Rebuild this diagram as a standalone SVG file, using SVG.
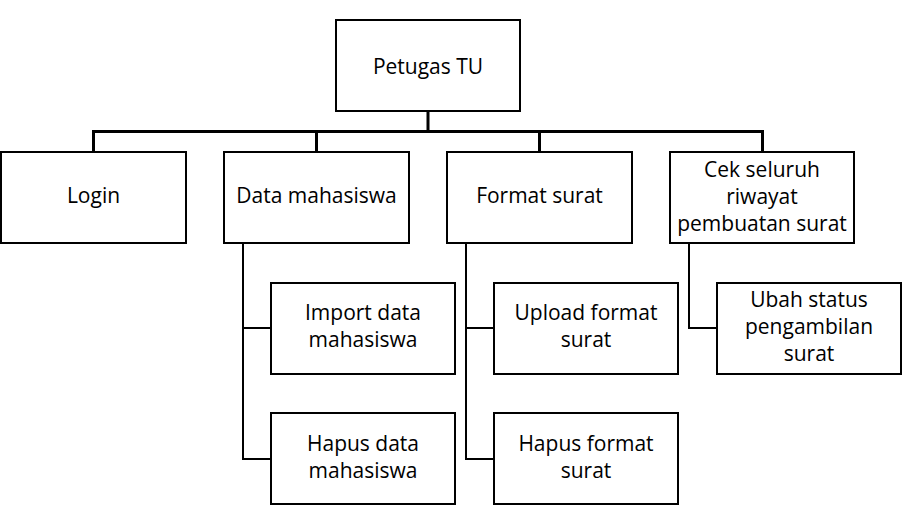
<svg xmlns="http://www.w3.org/2000/svg" width="902" height="525" viewBox="0 0 902 525">
<style>
.box{fill:#fff;stroke:#000;stroke-width:2}
.t{font-family:"Open Sans","Liberation Sans",sans-serif;font-size:21px;fill:#000;text-anchor:middle}
.c{fill:none;stroke:#000;stroke-width:2}
.m{fill:none;stroke:#000;stroke-width:3}
</style>
<rect width="902" height="525" fill="#fff"/>
<g id="connectors">
<path class="m" d="M428 111V131.5M93.5 152V131.5H762.5V152M316.5 131.5V152M539.5 131.5V152"/>
<path class="c" d="M243 243V459H271M243 328H271"/>
<path class="c" d="M466 243V459H494M466 328H494"/>
<path class="c" d="M689 243V328H717"/>
</g>
<g id="petugas"><rect class="box" x="336" y="20" width="184" height="91"/><text class="t" x="428" y="74">Petugas TU</text></g>
<g id="login"><rect class="box" x="1" y="152" width="185" height="91"/><text class="t" x="93.5" y="203">Login</text></g>
<g id="data"><rect class="box" x="224" y="152" width="185" height="91"/><text class="t" x="316.5" y="203">Data mahasiswa</text></g>
<g id="format"><rect class="box" x="447" y="152" width="185" height="91"/><text class="t" x="539.5" y="203">Format surat</text></g>
<g id="cek"><rect class="box" x="670" y="152" width="184" height="91"/><text class="t" x="762" y="177">Cek seluruh</text><text class="t" x="762" y="204">riwayat</text><text class="t" x="762" y="231">pembuatan surat</text></g>
<g id="import"><rect class="box" x="271" y="283" width="184" height="91"/><text class="t" x="363" y="320">Import data</text><text class="t" x="363" y="347">mahasiswa</text></g>
<g id="hapusdata"><rect class="box" x="271" y="413" width="184" height="91"/><text class="t" x="363" y="451">Hapus data</text><text class="t" x="363" y="478">mahasiswa</text></g>
<g id="upload"><rect class="box" x="494" y="283" width="184" height="91"/><text class="t" x="586" y="320">Upload format</text><text class="t" x="586" y="347">surat</text></g>
<g id="hapusformat"><rect class="box" x="494" y="413" width="184" height="91"/><text class="t" x="586" y="451">Hapus format</text><text class="t" x="586" y="478">surat</text></g>
<g id="ubah"><rect class="box" x="717" y="283" width="184" height="91"/><text class="t" x="809" y="307">Ubah status</text><text class="t" x="809" y="334">pengambilan</text><text class="t" x="809" y="361">surat</text></g>
</svg>
